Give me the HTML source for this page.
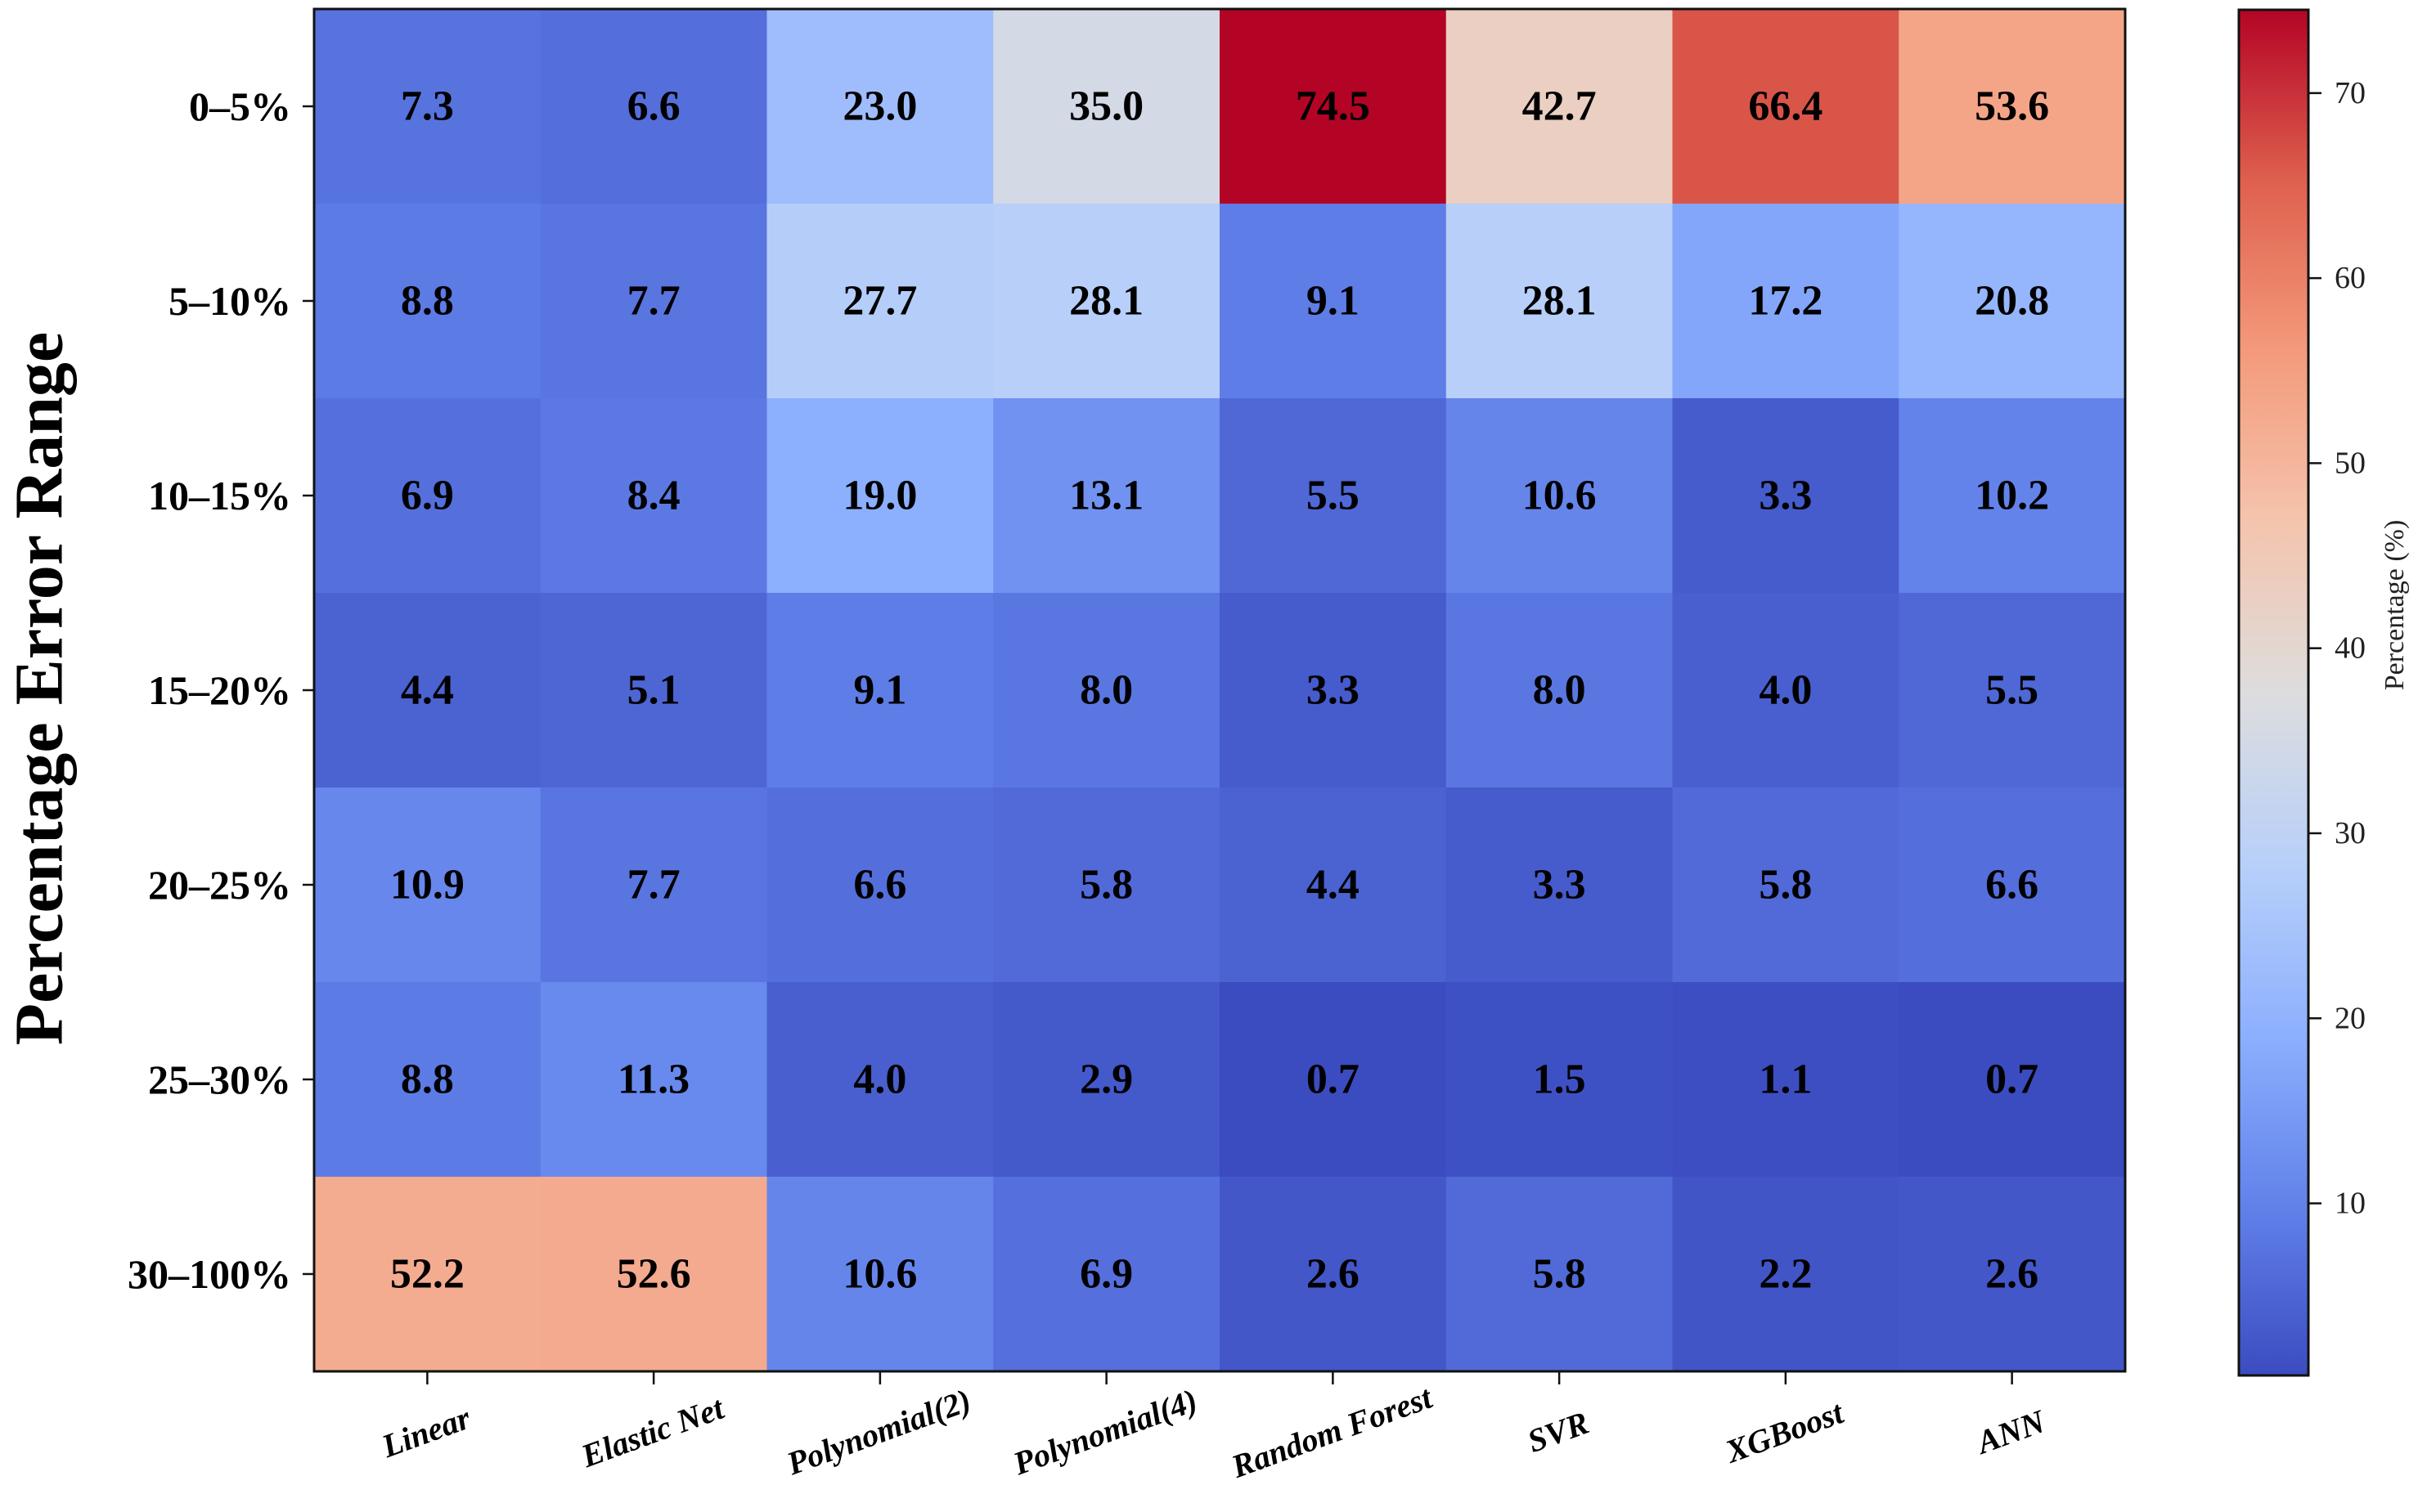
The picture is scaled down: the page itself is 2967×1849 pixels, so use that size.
<!DOCTYPE html>
<html><head><meta charset="utf-8"><style>
html,body{margin:0;padding:0;background:#fff;}
svg{display:block;}
text{font-family:"Liberation Serif",serif;}
</style></head><body>
<svg id="chart" width="2967" height="1849" viewBox="0 0 2967 1849" xmlns="http://www.w3.org/2000/svg">
<g id="cells"></g>
<g id="xaxis"></g>
<g id="yaxis"></g>
<g id="cbar"></g>
<text x="0" y="0" transform="translate(56,842) rotate(-90)" text-anchor="middle" dominant-baseline="middle" font-size="84" font-weight="bold">Percentage Error Range</text>
<text x="0" y="0" transform="translate(2930,740) rotate(-90)" text-anchor="middle" dominant-baseline="middle" font-size="34" fill="#222">Percentage (%)</text>
</svg>
<script>
const models = ["Linear","Elastic Net","Polynomial(2)","Polynomial(4)","Random Forest","SVR","XGBoost","ANN"];
const ranges = ["0–5%","5–10%","10–15%","15–20%","20–25%","25–30%","30–100%"];
const row0 = [7.3,6.6,23.0,35.0,74.5,42.7,66.4,53.6];
const row1 = [8.8,7.7,27.7,28.1,9.1,28.1,17.2,20.8];
const row2 = [6.9,8.4,19.0,13.1,5.5,10.6,3.3,10.2];
const row3 = [4.4,5.1,9.1,8.0,3.3,8.0,4.0,5.5];
const row4 = [10.9,7.7,6.6,5.8,4.4,3.3,5.8,6.6];
const row5 = [8.8,11.3,4.0,2.9,0.7,1.5,1.1,0.7];
const row6 = [52.2,52.6,10.6,6.9,2.6,5.8,2.2,2.6];
const cbTicks = [10,20,30,40,50,60,70];
const rows = [row0,row1,row2,row3,row4,row5,row6];

const NS = "http://www.w3.org/2000/svg";
const L=384, R=2598, T=11, B=1677;
const cw=(R-L)/models.length, ch=(B-T)/ranges.length;
const all=rows.flat();
const vmin=Math.min(...all), vmax=Math.max(...all);
const stops=[[59,76,192],[98,130,234],[141,176,254],[184,208,249],[221,221,221],[245,196,173],[244,154,123],[222,96,77],[180,4,38]];
function cmap(t){t=Math.max(0,Math.min(1,t));const p=t*8,i=Math.min(7,Math.floor(p)),f=p-i;
 const a=stops[i],b=stops[i+1];return `rgb(${a.map((v,k)=>Math.round(v+(b[k]-v)*f)).join(',')})`;}
function xs(i){return L+cw*i;}
function ys(j){return T+ch*j;}
function mk(tag,attrs,parent){const e=document.createElementNS(NS,tag);for(const k in attrs)e.setAttribute(k,attrs[k]);parent.appendChild(e);return e;}
const cells=document.getElementById('cells');
rows.forEach((row,j)=>row.forEach((v,i)=>{
 const r=mk('rect',{x:xs(i),y:ys(j),width:cw+0.5,height:ch+0.5,fill:cmap((v-vmin)/(vmax-vmin))},cells);
 
 
 const t=mk('text',{x:xs(i)+cw/2,y:ys(j)+ch/2,'text-anchor':'middle','dominant-baseline':'central','font-size':52,'font-weight':'bold'},cells);
 
 
 t.textContent=v.toFixed(1);
}));
mk('rect',{x:L,y:T,width:R-L,height:B-T,fill:'none',stroke:'#111','stroke-width':3},cells);
const xa=document.getElementById('xaxis');
models.forEach((m,i)=>{
 const cx=xs(i)+cw/2;
 mk('line',{x1:cx,y1:B,x2:cx,y2:B+16,stroke:'#111','stroke-width':2.5},xa);
 const t=mk('text',{x:0,y:0,transform:`translate(${cx},${1755}) rotate(-20)`,'text-anchor':'middle','dominant-baseline':'middle','font-size':40,'font-weight':'bold','font-style':'italic'},xa);
 
 
 t.textContent=m;
});
const ya=document.getElementById('yaxis');
ranges.forEach((r,j)=>{
 const cy=ys(j)+ch/2;
 mk('line',{x1:L-14,y1:cy,x2:L,y2:cy,stroke:'#111','stroke-width':2.5},ya);
 const t=mk('text',{x:L-28,y:cy,'text-anchor':'end','dominant-baseline':'central','font-size':50,'font-weight':'bold'},ya);
 
 
 t.textContent=r;
});
const cb=document.getElementById('cbar');
const CL=2737, CR=2822, CT=12, CB=1682;
const defs=mk('defs',{},cb);
const g=mk('linearGradient',{id:'cg',x1:0,y1:1,x2:0,y2:0},defs);
stops.forEach((s,k)=>mk('stop',{offset:k/8,'stop-color':`rgb(${s.join(',')})`},g));
mk('rect',{x:CL,y:CT,width:CR-CL,height:CB-CT,fill:'url(#cg)',stroke:'#111','stroke-width':3},cb);
function cy(v){return CB-(v-vmin)/(vmax-vmin)*(CB-CT);}
cbTicks.forEach(v=>{
 mk('line',{x1:CR,y1:cy(v),x2:CR+16,y2:cy(v),stroke:'#111','stroke-width':2.5},cb);
 const t=mk('text',{x:CR+32,y:cy(v),'dominant-baseline':'central','font-size':38,fill:'#222'},cb);
 
 
 t.textContent=v;
});
</script>
</body></html>
